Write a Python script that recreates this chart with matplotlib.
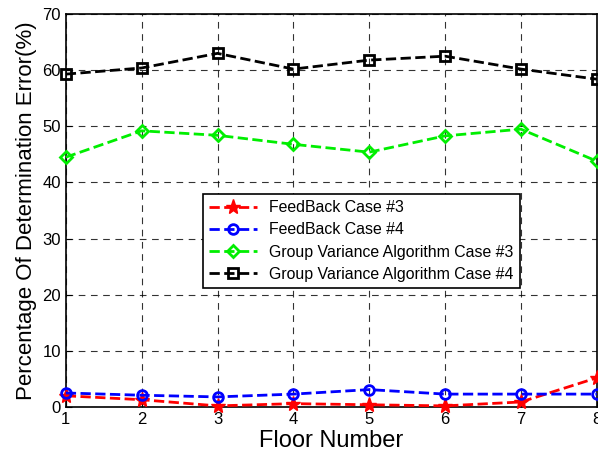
import matplotlib
matplotlib.use("Agg")
import matplotlib.pyplot as plt

plt.rcParams['font.family'] = ['Liberation Sans', 'DejaVu Sans']

floors = [1, 2, 3, 4, 5, 6, 7, 8]
fb3 = [2.0, 1.3, 0.2, 0.6, 0.4, 0.2, 0.9, 5.2]
fb4 = [2.5, 2.1, 1.8, 2.3, 3.1, 2.3, 2.3, 2.3]
gva3 = [44.5, 49.2, 48.4, 46.8, 45.4, 48.3, 49.5, 43.8]
gva4 = [59.3, 60.4, 63.0, 60.2, 61.8, 62.5, 60.2, 58.4]
labels = ['FeedBack Case #3', 'FeedBack Case #4',
          'Group Variance Algorithm Case #3', 'Group Variance Algorithm Case #4']

fig = plt.figure(figsize=(5.98, 4.54), dpi=100)
ax = fig.add_axes([0.110, 0.1035, 0.888, 0.8655])

ax.plot(floors, fb3, '--', color='red', marker='*', markersize=11, lw=2, label=labels[0], clip_on=False, zorder=5)
ax.plot(floors, fb4, '--', color='blue', marker='o', markersize=7, mfc='none', mew=2, lw=2, label=labels[1], clip_on=False, zorder=5)
ax.plot(floors, gva3, '--', color='#00ee00', marker='D', markersize=6, mfc='none', mew=2, lw=2, label=labels[2], clip_on=False, zorder=5)
ax.plot(floors, gva4, '--', color='black', marker='s', markersize=7, mfc='none', mew=2, lw=2, label=labels[3], clip_on=False, zorder=5)

ax.set_xlim(1, 8)
ax.set_ylim(0, 70)
ax.set_xticks(floors)
ax.set_yticks(range(0, 71, 10))
ax.grid(True, color='black', linestyle=(0, (6, 5)), linewidth=0.8, alpha=0.8)
ax.tick_params(labelsize=12, direction='in', length=4)
for s in ax.spines.values():
    s.set_linewidth(1.2)

ax.set_xlabel('Floor Number', fontsize=17, labelpad=2)
ax.set_ylabel('Percentage Of Determination Error(%)', fontsize=16, labelpad=4)

leg = ax.legend(loc='upper left', bbox_to_anchor=(0.258, 0.542), fontsize=11.4,
                fancybox=False, framealpha=1, edgecolor='black', borderaxespad=0,
                handlelength=3.0, handletextpad=0.8, borderpad=0.4, labelspacing=0.45)
leg.get_frame().set_linewidth(1.2)

fig.savefig('out.png', dpi=100)
